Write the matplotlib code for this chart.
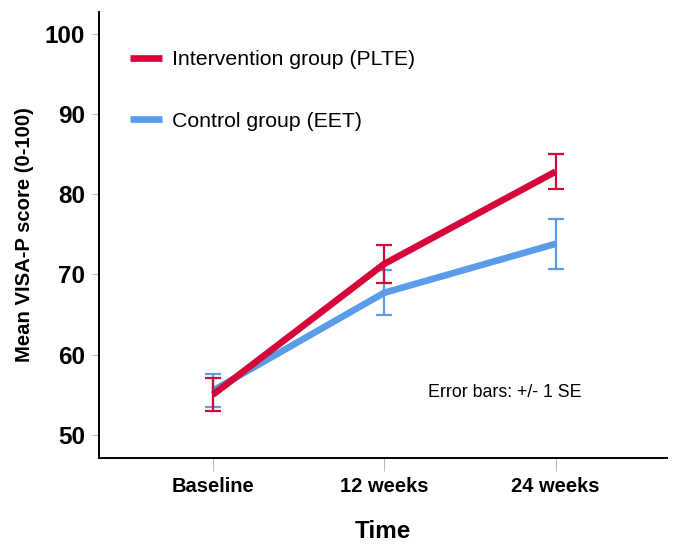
import matplotlib.pyplot as plt

plt.rcParams['font.family'] = ['Liberation Sans', 'DejaVu Sans']

time_points = ['Baseline', '12 weeks', '24 weeks']
plte_mean = [55.0, 71.3, 82.8]
plte_se = [2.1, 2.4, 2.2]
eet_mean = [55.5, 67.7, 73.8]
eet_se = [2.1, 2.8, 3.1]

red = '#d4063a'
blue = '#5b9ce8'

fig = plt.figure(figsize=(6.75, 5.45), dpi=100)
ax = fig.add_axes([0.1467, 0.1596, 0.8413, 0.8184])

x = list(range(len(time_points)))

ax.plot(x, eet_mean, color=blue, lw=4.8, solid_capstyle='butt', label='Control group (EET)', zorder=2)
ax.errorbar(x, eet_mean, yerr=eet_se, fmt='none', ecolor=blue, elinewidth=1.6,
            capsize=6, capthick=1.6, zorder=3)
ax.plot(x, plte_mean, color=red, lw=4.8, solid_capstyle='butt', label='Intervention group (PLTE)', zorder=4)
ax.errorbar(x, plte_mean, yerr=plte_se, fmt='none', ecolor=red, elinewidth=1.6,
            capsize=6, capthick=1.6, zorder=5)

ax.set_xlim(-0.665, 2.65)
ax.set_ylim(47.1, 102.7)
ax.set_yticks([50, 60, 70, 80, 90, 100])
ax.set_xticks(x)
ax.set_xticklabels(time_points)

for s in ['top', 'right']:
    ax.spines[s].set_visible(False)
for s in ['left', 'bottom']:
    ax.spines[s].set_linewidth(1.4)

ax.tick_params(axis='y', length=5, color='#bbbbbb', labelsize=17.5, pad=5)
ax.tick_params(axis='x', length=9, color='#bbbbbb', labelsize=14.5, pad=5)
for lab in ax.get_yticklabels() + ax.get_xticklabels():
    lab.set_fontweight('bold')

ax.set_ylabel('Mean VISA-P score (0-100)', fontsize=14.6, fontweight='bold', labelpad=8)
ax.set_xlabel('Time', fontsize=17.5, fontweight='bold', labelpad=17)

handles, labels = ax.get_legend_handles_labels()
ax.legend(handles[::-1], labels[::-1], loc='upper left', bbox_to_anchor=(0.0396, 0.933),
          frameon=False, fontsize=15.3, handlelength=1.5, handletextpad=0.47,
          labelspacing=2.0, borderaxespad=0)

ax.text(0.579, 0.148, 'Error bars: +/- 1 SE', transform=ax.transAxes, fontsize=12.8,
        va='center')

fig.savefig('out.png', dpi=100)
